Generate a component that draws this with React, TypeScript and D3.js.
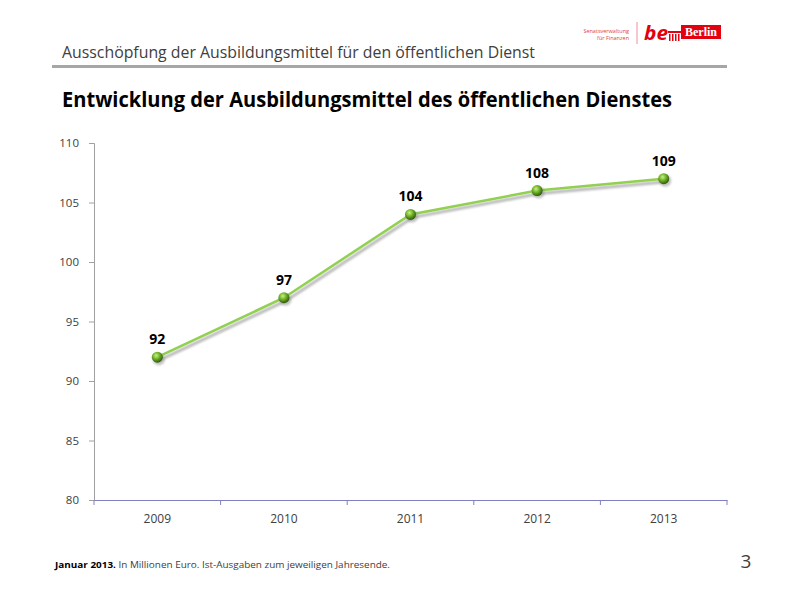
import React, { useEffect, useRef } from 'react';
import * as d3 from 'd3';

// chart data
const years = ['2009', '2010', '2011', '2012', '2013'];
const plotted = [92, 97, 104, 106, 107];
const labels = ['92', '97', '104', '108', '109'];
const yTicks = [80, 85, 90, 95, 100, 105, 110];

const headerText = 'Ausschöpfung der Ausbildungsmittel für den öffentlichen Dienst';
const titleText = 'Entwicklung der Ausbildungsmittel des öffentlichen Dienstes';

const App = () => {
  const ref = useRef<SVGSVGElement>(null);

  useEffect(() => {
    const svg = d3.select(ref.current);
    svg.selectAll('*').remove();

    const left = 94, right = 727, top = 143, bottom = 500;
    const font = "'Open Sans', 'Noto Sans', sans-serif";

    const defs = svg.append('defs');
    const grad = defs.append('radialGradient').attr('id', 'ball').attr('cx', '40%').attr('cy', '35%').attr('r', '65%');
    grad.append('stop').attr('offset', '0%').attr('stop-color', '#c8f08c');
    grad.append('stop').attr('offset', '45%').attr('stop-color', '#76b82a');
    grad.append('stop').attr('offset', '100%').attr('stop-color', '#2f5a0c');
    defs.append('filter').attr('id', 'blur').append('feGaussianBlur').attr('stdDeviation', 1.2);

    // header
    svg.append('text')
      .attr('x', 62).attr('y', 58)
      .attr('textLength', 473).attr('lengthAdjust', 'spacingAndGlyphs')
      .style('font-family', font).style('font-size', '17px').style('fill', '#404040')
      .text(headerText);
    svg.append('rect').attr('x', 52).attr('y', 65).attr('width', 675).attr('height', 3).attr('fill', '#a6a6a6');

    // logo
    const logo = svg.append('g');
    logo.append('text').attr('x', 629).attr('y', 33).attr('text-anchor', 'end')
      .style('font-family', font).style('font-size', '5.5px').style('fill', '#e0404a').text('Senatsverwaltung');
    logo.append('text').attr('x', 629).attr('y', 40).attr('text-anchor', 'end')
      .style('font-family', font).style('font-size', '5.5px').style('fill', '#e0404a').text('für Finanzen');
    logo.append('line').attr('x1', 637).attr('x2', 637).attr('y1', 22).attr('y2', 44).attr('stroke', '#e89098').attr('stroke-width', 1);
    logo.append('text').attr('x', 644).attr('y', 40)
      .attr('textLength', 24).attr('lengthAdjust', 'spacingAndGlyphs')
      .style('font-family', font).style('font-size', '19px').style('font-weight', 'bold').style('font-style', 'italic')
      .style('fill', '#e3000f').text('be');
    d3.range(4).forEach(i => {
      logo.append('rect').attr('x', 669 + i * 3).attr('y', 34).attr('width', 1.5).attr('height', 7).attr('fill', '#e3000f');
    });
    logo.append('rect').attr('x', 668).attr('y', 31).attr('width', 13).attr('height', 2).attr('fill', '#e3000f');
    logo.append('rect').attr('x', 681).attr('y', 25).attr('width', 40).attr('height', 14).attr('fill', '#e3000f');
    logo.append('text').attr('x', 701).attr('y', 36).attr('text-anchor', 'middle')
      .style('font-family', "'Liberation Serif', serif").style('font-size', '12px').style('font-weight', 'bold')
      .style('fill', '#ffffff').text('Berlin');

    // title
    svg.append('text')
      .attr('x', 62).attr('y', 107)
      .attr('textLength', 610).attr('lengthAdjust', 'spacingAndGlyphs')
      .style('font-family', font).style('font-size', '22px').style('font-weight', 'bold').style('fill', '#000')
      .text(titleText);

    // scales
    const x = d3.scaleBand().domain(years).range([left, right]);
    const y = d3.scaleLinear().domain([80, 110]).range([bottom, top]);

    // y axis
    const yAxis = svg.append('g').attr('transform', `translate(${left},0)`)
      .call(d3.axisLeft(y).tickValues(yTicks).tickSize(5).tickPadding(10));
    yAxis.select('.domain').attr('stroke', '#a0a0a0');
    yAxis.selectAll('.tick line').attr('stroke', '#a0a0a0');
    yAxis.selectAll('.tick text').style('font-family', font).style('font-size', '11.5px').style('fill', '#404040');

    // x axis
    const xAxis = svg.append('g').attr('transform', `translate(0,${bottom})`)
      .call(d3.axisBottom(x).tickSize(0).tickPadding(14));
    xAxis.select('.domain').attr('stroke', '#8080c0').attr('stroke-width', 1.2);
    xAxis.selectAll('.tick text').style('font-family', font).style('font-size', '12px').style('fill', '#404040');
    const bounds = years.map(d => x(d) as number).concat([right]);
    xAxis.selectAll('.bound').data(bounds).join('line')
      .attr('x1', d => d).attr('x2', d => d).attr('y1', 0).attr('y2', 5)
      .attr('stroke', '#8080c0');

    const cx = (d: string) => (x(d) as number) + x.bandwidth() / 2;
    const pts = years.map((d, i) => [cx(d), y(plotted[i])] as [number, number]);
    const line = d3.line();

    // shadow, line
    svg.append('path').attr('d', line(pts.map(p => [p[0] + 2, p[1] + 3] as [number, number])))
      .attr('fill', 'none').attr('stroke', '#9a9a9a').attr('stroke-width', 3).attr('opacity', 0.7).attr('filter', 'url(#blur)');
    svg.append('path').attr('d', line(pts))
      .attr('fill', 'none').attr('stroke', '#92d050').attr('stroke-width', 2.5);

    // markers
    svg.selectAll('.shadowball').data(pts).join('circle')
      .attr('cx', d => d[0] + 1.5).attr('cy', d => d[1] + 2).attr('r', 6)
      .attr('fill', '#888').attr('opacity', 0.5).attr('filter', 'url(#blur)');
    svg.selectAll('.ball').data(pts).join('circle')
      .attr('cx', d => d[0]).attr('cy', d => d[1]).attr('r', 5.5)
      .attr('fill', 'url(#ball)');

    // data labels
    svg.selectAll('.lbl').data(pts).join('text')
      .attr('x', d => d[0]).attr('y', d => d[1] - 13)
      .attr('text-anchor', 'middle')
      .style('font-family', font).style('font-size', '14px').style('font-weight', 'bold').style('fill', '#000')
      .text((d, i) => labels[i]);

    // footnote
    const foot = svg.append('text').attr('x', 55).attr('y', 568)
      .attr('textLength', 335).attr('lengthAdjust', 'spacingAndGlyphs')
      .style('font-family', font).style('font-size', '9px').style('fill', '#404040');
    foot.append('tspan').style('font-weight', 'bold').style('fill', '#000').text('Januar 2013. ');
    foot.append('tspan').text('In Millionen Euro. Ist-Ausgaben zum jeweiligen Jahresende.');

    svg.append('text').attr('x', 746).attr('y', 568).attr('text-anchor', 'middle')
      .style('font-family', font).style('font-size', '19px').style('fill', '#404040').text('3');
  }, []);

  return (
    <div style={{ position: 'fixed', left: 0, top: 0 }}>
      <svg ref={ref} width={800} height={600} style={{ display: 'block', background: '#fff' }}></svg>
    </div>
  );
};

export default App;
